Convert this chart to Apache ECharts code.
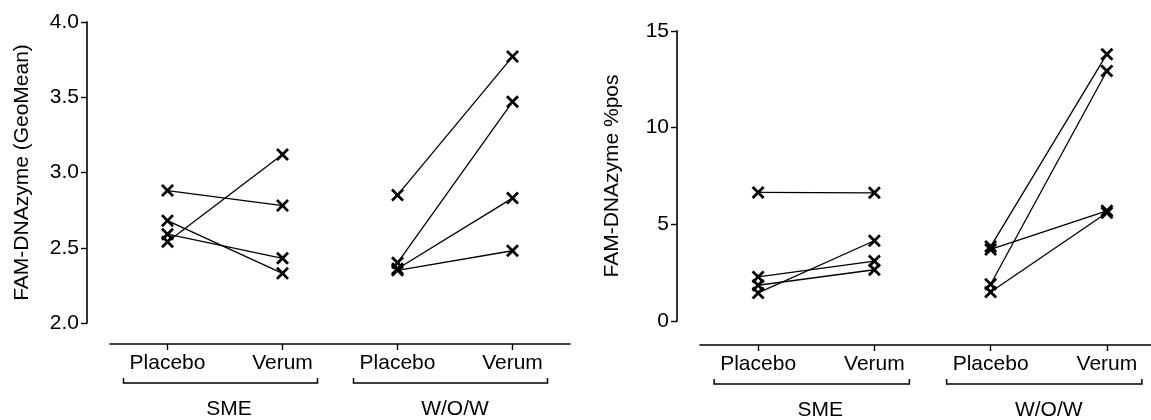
<!DOCTYPE html>
<html><head><meta charset="utf-8">
<script src="https://cdn.jsdelivr.net/npm/echarts@6/dist/echarts.min.js"></script>
<style>html,body{margin:0;padding:0;background:#fff}#c{width:1151px;height:420px}</style>
</head><body><div id="c"></div>
<script>
// ---- data ----
const categories = ['Placebo', 'Verum', 'Placebo', 'Verum'];
const groups = ['SME', 'W/O/W'];
const yNames = ['FAM-DNAzyme (GeoMean)', 'FAM-DNAzyme %pos'];
// panel 1: GeoMean (paired per subject: placebo[i] -> verum[i])
const geoSmePlacebo = [2.88, 2.68, 2.59, 2.54];
const geoSmeVerum   = [2.78, 2.33, 2.43, 3.12];
const geoWowPlacebo = [2.85, 2.40, 2.36, 2.35];
const geoWowVerum   = [3.77, 3.47, 2.83, 2.48];
// panel 2: %pos
const posSmePlacebo = [6.65, 2.28, 1.85, 1.45];
const posSmeVerum   = [6.63, 3.10, 2.65, 4.15];
const posWowPlacebo = [3.85, 3.70, 1.90, 1.50];
const posWowVerum   = [13.80, 5.70, 12.93, 5.60];
const geoTicks = [2.0, 2.5, 3.0, 3.5, 4.0];
const posTicks = [0, 5, 10, 15];

// ---- layout / style ----
const FONT = 'Liberation Sans, Arial, sans-serif';
// axisTop: pixel of top tick, axisLow: pixel of bottom tick, xLine: pixel of x axis line
const layout = [
  {left: 110, width: 460, axisTop: 22, axisLow: 323, xLine: 344},
  {left: 700, width: 465, axisTop: 31, axisLow: 321, xLine: 345}
];
const Y_OFF = 23;
const XSYM = 'path://M0,1.5L1.5,0L5,3.5L8.5,0L10,1.5L6.5,5L10,8.5L8.5,10L5,6.5L1.5,10L0,8.5L3.5,5Z';

const panels = [
  {pl: [geoSmePlacebo, geoWowPlacebo], ve: [geoSmeVerum, geoWowVerum], ticks: geoTicks, fmt: v => Number(v).toFixed(1)},
  {pl: [posSmePlacebo, posWowPlacebo], ve: [posSmeVerum, posWowVerum], ticks: posTicks, fmt: v => String(v)}
];

const grids = [], xAxis = [], yAxis = [], series = [];
panels.forEach((p, k) => {
  const L = layout[k];
  const lo = p.ticks[0], hi = p.ticks[p.ticks.length - 1];
  // extend the value range below the lowest tick so the x axis sits below the y axis end
  const perPx = (hi - lo) / (L.axisLow - L.axisTop);
  const yMin = lo - (L.xLine - L.axisLow) * perPx;
  grids.push({left: L.left, top: L.axisTop, width: L.width, height: L.xLine - L.axisTop,
              outerBoundsMode: 'none', containLabel: false});
  xAxis.push({
    gridIndex: k, type: 'category', data: categories, boundaryGap: true,
    axisLine: {show: true, onZero: false, lineStyle: {color: '#000', width: 1.6}},
    axisTick: {show: true, alignWithLabel: true, interval: 0, length: 6, lineStyle: {color: '#000', width: 1.4}},
    axisLabel: {color: '#000', fontSize: 21, fontFamily: FONT, margin: 9, interval: 0},
    splitLine: {show: false}
  });
  yAxis.push({
    gridIndex: k, type: 'value', min: yMin, max: hi, offset: Y_OFF,
    axisLine: {show: false},
    axisTick: {show: true, length: 6, customValues: p.ticks, lineStyle: {color: '#000', width: 1.4}},
    axisLabel: {color: '#000', fontSize: 21, fontFamily: FONT, margin: 8, customValues: p.ticks, formatter: p.fmt},
    splitLine: {show: false}
  });
  for (let g = 0; g < 2; g++) {
    p.pl[g].forEach((pv, i) => {
      series.push({
        type: 'line', xAxisIndex: k, yAxisIndex: k,
        data: [[2 * g, pv], [2 * g + 1, p.ve[g][i]]],
        symbol: XSYM, symbolSize: 13, showSymbol: true,
        itemStyle: {color: '#000'}, lineStyle: {color: '#000', width: 1.3},
        animation: false, silent: true
      });
    });
  }
});

const chart = echarts.init(document.getElementById('c'), null, {renderer: 'canvas'});
chart.setOption({
  backgroundColor: '#fff', animation: false,
  grid: grids, xAxis, yAxis, series
});

// y axis lines (only over the tick range), y names, group brackets + group names
const graphic = [];
panels.forEach((p, k) => {
  const L = layout[k];
  const ax = L.left - Y_OFF;
  const yTop = chart.convertToPixel({yAxisIndex: k}, p.ticks[p.ticks.length - 1]);
  const yLow = chart.convertToPixel({yAxisIndex: k}, p.ticks[0]);
  graphic.push({
    type: 'rect', silent: true, z: 50,
    shape: {x: ax - 0.8, y: yTop - 0.7, width: 1.6, height: yLow - yTop + 1.4},
    style: {fill: '#000'}
  });
  graphic.push({
    type: 'text', silent: true, x: ax - 65, y: (yTop + yLow) / 2, rotation: Math.PI / 2,
    style: {text: yNames[k], fill: '#000', font: '21px ' + FONT, align: 'center', verticalAlign: 'middle'}
  });
  const yb = L.xLine + 39;
  for (let g = 0; g < 2; g++) {
    const c0 = chart.convertToPixel({xAxisIndex: k}, 2 * g);
    const c1 = chart.convertToPixel({xAxisIndex: k}, 2 * g + 1);
    graphic.push({
      type: 'polyline', silent: true,
      shape: {points: [[c0 - 44, yb - 5], [c0 - 44, yb], [c1 + 35, yb], [c1 + 35, yb - 5]]},
      style: {stroke: '#000', lineWidth: 1.5, fill: null}
    });
    graphic.push({
      type: 'text', silent: true, x: (c0 + c1) / 2 + (g === 0 ? 4 : 0), y: L.xLine + 65,
      style: {text: groups[g], fill: '#000', font: '21px ' + FONT, align: 'center', verticalAlign: 'middle'}
    });
  }
});
chart.setOption({graphic});
</script>
</body></html>
